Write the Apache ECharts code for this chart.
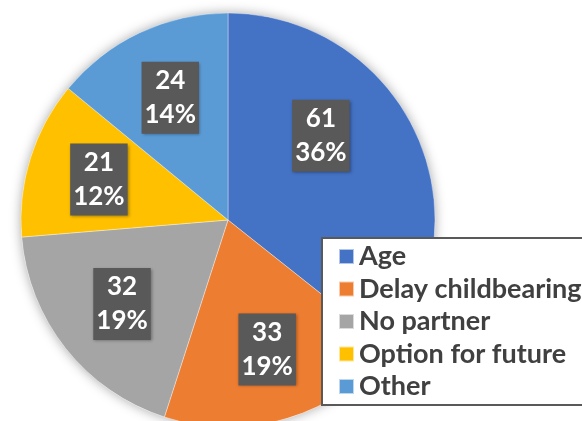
<!DOCTYPE html>
<html>
<head>
<meta charset="utf-8">
<script src="https://cdn.jsdelivr.net/npm/echarts@6/dist/echarts.min.js"></script>
<style>
    html, body { margin: 0; padding: 0; background: #fff; overflow: hidden; }
    /* wider than the window: the legend box runs off the right edge, as in the original */
    #chart-reasons { width: 680px; height: 421px; }
</style>
</head>
<body>
<div id="chart-reasons"></div>
<script>
var categories = ['Age', 'Delay childbearing', 'No partner', 'Option for future', 'Other'];
var counts = [61, 33, 32, 21, 24];
var sliceColors = ['#4472C4', '#ED7D31', '#A5A5A5', '#FFC000', '#5B9BD5'];

var PIE_CENTER = [228, 220];
var PIE_RADIUS = 207;

function InitChart() {
    var chartDom = document.getElementById('chart-reasons');
    var myChart = echarts.init(chartDom);

    var pieData = categories.map((name, i) => {
        return { name: name, value: counts[i], itemStyle: { color: sliceColors[i] } };
    });

    var option = {
        animation: false,
        legend: {
            data: categories,
            orient: 'vertical',
            left: 322,
            top: 238,
            padding: [5, 70, 5, 16],
            backgroundColor: '#fff',
            borderColor: '#595959',
            borderWidth: 2,
            icon: 'rect',
            itemWidth: 15,
            itemHeight: 15,
            itemGap: 5.5,
            selectedMode: false,
            textStyle: {
                fontFamily: 'Lato',
                fontWeight: 'bold',
                fontSize: 27,
                color: '#404040'
            }
        },
        series: [
            {
                // soft shadow behind the whole pie
                type: 'pie',
                silent: true,
                center: PIE_CENTER,
                radius: PIE_RADIUS,
                data: [{ value: 1, name: '' }],
                label: { show: false },
                labelLine: { show: false },
                itemStyle: { color: '#fff', shadowBlur: 12, shadowColor: 'rgba(0,0,0,0.35)' }
            },
            {
                type: 'pie',
                center: PIE_CENTER,
                radius: PIE_RADIUS,
                startAngle: 90,
                clockwise: true,
                percentPrecision: 0,
                data: pieData,
                itemStyle: { borderColor: 'rgba(255,255,255,0.6)', borderWidth: 0.6 },
                label: {
                    show: true,
                    position: 'inside',
                    formatter: '{c}\n{d}%',
                    color: '#fff',
                    fontFamily: 'Lato',
                    fontWeight: 'bold',
                    fontSize: 26,
                    lineHeight: 34,
                    backgroundColor: '#595959',
                    padding: [2, 3],
                    shadowColor: 'rgba(0,0,0,0.35)',
                    shadowBlur: 3,
                    shadowOffsetX: 1,
                    shadowOffsetY: 1
                },
                labelLayout: function (p) {
                    // the big slice's label sits higher up in the original
                    if (p.dataIndex === 0) {
                        return { dx: -3, dy: -38 };
                    }
                    // push the other labels a bit further out from the centre
                    var k = 1.27;
                    var lx = p.labelRect.x + p.labelRect.width / 2;
                    var ly = p.labelRect.y + p.labelRect.height / 2;
                    return { dx: (lx - PIE_CENTER[0]) * (k - 1), dy: (ly - PIE_CENTER[1]) * (k - 1) };
                }
            }
        ]
    };

    myChart.setOption(option);
}

InitChart();
</script>
</body>
</html>
